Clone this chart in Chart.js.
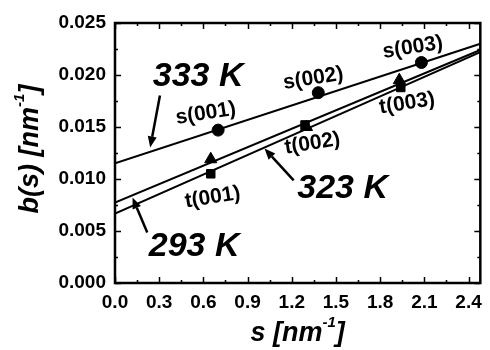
<!DOCTYPE html>
<html>
<head>
<meta charset="utf-8">
<script src="https://cdn.jsdelivr.net/npm/chart.js@4"></script>
<style>
html,body{margin:0;padding:0;background:#fff;}
#wrap{width:490px;height:350px;position:relative;}
</style>
</head>
<body>
<div id="wrap"><canvas id="c" width="490" height="350"></canvas></div>
<script>
// ---- data ----
const circleS = [0.70, 1.38, 2.08];
const circleB = [0.0147, 0.0183, 0.0212];
const triangleS = [0.65, 1.30, 1.93];
const triangleB = [0.0119, 0.0150, 0.0195];
const squareS = [0.65, 1.29, 1.94];
const squareB = [0.0105, 0.0152, 0.0188];
const fitS = [0.0, 2.48];
const fit333 = [0.0115, 0.0230];
const fit293 = [0.00774, 0.0224];
const fit323 = [0.00668, 0.0222];
const xTicks = [0.0, 0.3, 0.6, 0.9, 1.2, 1.5, 1.8, 2.1, 2.4];
const yTicks = [0.000, 0.005, 0.010, 0.015, 0.020, 0.025];
const peakLabels = ['s(001)', 's(002)', 's(003)', 't(001)', 't(002)', 't(003)'];
const peakLabelS = [0.617, 1.346, 2.022, 0.663, 1.34, 1.983];
const peakLabelB = [0.0163, 0.01966, 0.02264, 0.00822, 0.01341, 0.01726];
const tempLabels = ['333 K', '293 K', '323 K'];
const tempLabelS = [0.564, 0.537, 1.545];
const tempLabelB = [0.01986, 0.00351, 0.00909];
// arrows: from (s,b) to tip (s,b)
const arrowFromS = [0.305, 0.219, 1.213];
const arrowFromB = [0.01803, 0.00486, 0.00986];
const arrowToS = [0.239, 0.119, 1.015];
const arrowToB = [0.01303, 0.00822, 0.01293];

const pts = (xs, ys) => xs.map((x, i) => ({x: x, y: ys[i]}));

const decor = {
  id: 'decor',
  afterDatasetsDraw(chart) {
    const ctx = chart.ctx, a = chart.chartArea;
    const xs = chart.scales.x, ys = chart.scales.y;
    ctx.save();
    ctx.strokeStyle = '#000';
    ctx.fillStyle = '#000';
    ctx.lineWidth = 2.5;
    ctx.strokeRect(a.left, a.top, a.right - a.left, a.bottom - a.top);
    // ticks (inward, all four sides)
    ctx.lineWidth = 1.5;
    ctx.beginPath();
    for (let i = 0; i < xTicks.length; i++) {
      const v = xTicks[i];
      [[v, 6], [v + 0.15, 3]].forEach(([t, len]) => {
        if (t > xs.max) return;
        const px = Math.round(xs.getPixelForValue(t)) + 0.5;
        ctx.moveTo(px, a.bottom); ctx.lineTo(px, a.bottom - len);
        ctx.moveTo(px, a.top); ctx.lineTo(px, a.top + len);
      });
    }
    for (let i = 0; i < yTicks.length; i++) {
      const v = yTicks[i];
      [[v, 6], [v + 0.0025, 3]].forEach(([t, len]) => {
        if (t > ys.max + 1e-9) return;
        const py = Math.round(ys.getPixelForValue(t)) + 0.5;
        ctx.moveTo(a.left, py); ctx.lineTo(a.left + len, py);
        ctx.moveTo(a.right, py); ctx.lineTo(a.right - len, py);
      });
    }
    ctx.stroke();

    // arrows
    for (let i = 0; i < arrowFromS.length; i++) {
      const x1 = xs.getPixelForValue(arrowFromS[i]), y1 = ys.getPixelForValue(arrowFromB[i]);
      const x2 = xs.getPixelForValue(arrowToS[i]), y2 = ys.getPixelForValue(arrowToB[i]);
      const ang = Math.atan2(y2 - y1, x2 - x1);
      const hl = 11, hw = 4.5;
      const bx = x2 - hl * Math.cos(ang), by = y2 - hl * Math.sin(ang);
      ctx.lineWidth = 2.5;
      ctx.beginPath();
      ctx.moveTo(x1, y1); ctx.lineTo(bx, by);
      ctx.stroke();
      ctx.beginPath();
      ctx.moveTo(x2, y2);
      ctx.lineTo(bx + hw * Math.sin(ang), by - hw * Math.cos(ang));
      ctx.lineTo(bx - hw * Math.sin(ang), by + hw * Math.cos(ang));
      ctx.closePath();
      ctx.fill();
    }

    // temperature labels
    ctx.font = 'italic bold 34px "Liberation Sans", Arial, sans-serif';
    ctx.textAlign = 'center';
    ctx.textBaseline = 'middle';
    for (let i = 0; i < tempLabels.length; i++) {
      ctx.fillText(tempLabels[i], xs.getPixelForValue(tempLabelS[i]), ys.getPixelForValue(tempLabelB[i]));
    }
    // peak labels (slightly rotated)
    ctx.font = 'bold 21px "Liberation Sans", Arial, sans-serif';
    for (let i = 0; i < peakLabels.length; i++) {
      ctx.save();
      ctx.translate(xs.getPixelForValue(peakLabelS[i]), ys.getPixelForValue(peakLabelB[i]));
      ctx.rotate(-9 * Math.PI / 180);
      ctx.fillText(peakLabels[i], 0, 0);
      ctx.restore();
    }

    // axis titles with superscript
    const drawTitle = (cx, cy, rot, main, sup, tail) => {
      ctx.save();
      ctx.translate(cx, cy);
      ctx.rotate(rot);
      const big = 'italic bold 27px "Liberation Sans", Arial, sans-serif';
      const small = 'italic bold 15px "Liberation Sans", Arial, sans-serif';
      ctx.font = big; const w1 = ctx.measureText(main).width; const w3 = ctx.measureText(tail).width;
      ctx.font = small; const w2 = ctx.measureText(sup).width;
      let x = -(w1 + w2 + w3) / 2;
      ctx.textAlign = 'left';
      ctx.textBaseline = 'alphabetic';
      ctx.font = big; ctx.fillText(main, x, 9); x += w1;
      ctx.font = small; ctx.fillText(sup, x, -5); x += w2;
      ctx.font = big; ctx.fillText(tail, x, 9);
      ctx.restore();
    };
    drawTitle((a.left + a.right) / 2 + 0, 332, 0, 's [nm', '-1', ']');
    drawTitle(29, (a.top + a.bottom) / 2 - 4, -Math.PI / 2, 'b(s) [nm', '-1', ']');
    ctx.restore();
  }
};

const lineDs = (ys) => ({
  type: 'line', data: pts(fitS, ys), borderColor: '#000', borderWidth: 2,
  pointRadius: 0, fill: false, showLine: true, order: 3
});

new Chart(document.getElementById('c'), {
  type: 'scatter',
  data: {
    datasets: [
      lineDs(fit333), lineDs(fit293), lineDs(fit323),
      {data: pts(circleS, circleB), pointStyle: 'circle', pointRadius: 6, backgroundColor: '#000', borderColor: '#000', order: 1},
      {data: pts(triangleS, triangleB), pointStyle: 'triangle', pointRadius: 7, backgroundColor: '#000', borderColor: '#000', order: 2},
      {data: pts(squareS, squareB), pointStyle: 'rect', pointRadius: 6, backgroundColor: '#000', borderColor: '#000', order: 1}
    ]
  },
  options: {
    responsive: false,
    animation: false,
    events: [],
    layout: {padding: {left: 0, right: 1, top: 23, bottom: 0}},
    plugins: {legend: {display: false}, tooltip: {enabled: false}},
    scales: {
      x: {
        type: 'linear', min: 0, max: 2.48,
        grid: {display: false, drawTicks: false},
        border: {display: false},
        afterBuildTicks: (s) => { s.ticks = xTicks.map(v => ({value: v})); },
        afterFit: (s) => { s.height = 67; },
        ticks: {
          padding: 8, color: '#000',
          font: {family: '"Liberation Sans", Arial, sans-serif', size: 19, weight: 'bold'},
          callback: (v) => Number(v).toFixed(1), maxRotation: 0, autoSkip: false
        }
      },
      y: {
        type: 'linear', min: 0, max: 0.025,
        grid: {display: false, drawTicks: false},
        border: {display: false},
        afterBuildTicks: (s) => { s.ticks = yTicks.map(v => ({value: v})); },
        afterFit: (s) => { s.width = 115; },
        ticks: {
          padding: 9, color: '#000',
          font: {family: '"Liberation Sans", Arial, sans-serif', size: 19, weight: 'bold'},
          callback: (v) => Number(v).toFixed(3), autoSkip: false
        }
      }
    }
  },
  plugins: [decor]
});
</script>
</body>
</html>
